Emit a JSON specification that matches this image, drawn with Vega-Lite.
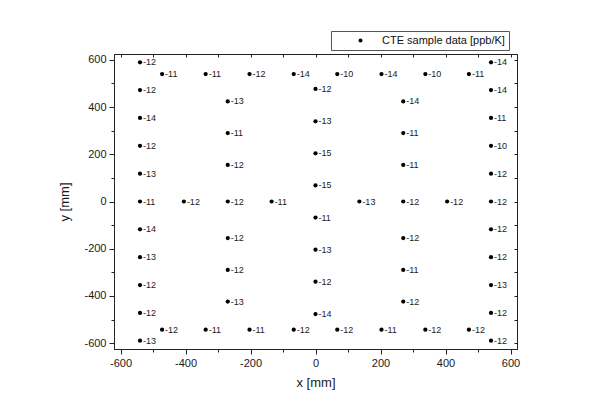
{
  "$schema": "https://vega.github.io/schema/vega-lite/v6.json",
  "width": 403,
  "height": 295,
  "autosize": {"type": "none"},
  "padding": {"left": 114, "top": 54, "right": 77, "bottom": 66},
  "background": "white",
  "config": {
    "font": "Liberation Sans",
    "view": {"stroke": "#333", "strokeWidth": 1},
    "axis": {"domainColor": "#222", "tickColor": "#222", "labelColor": "#1a1a1a", "titleColor": "#1a1a1a", "grid": false, "labelFontSize": 11, "titleFontSize": 13, "titleFontWeight": "normal"}
  },
  "data": {
    "values": [
      {"x": -540, "y": 590, "v": -12}, {"x": -540, "y": 472, "v": -12}, {"x": -540, "y": 354, "v": -14},
      {"x": -540, "y": 236, "v": -12}, {"x": -540, "y": 118, "v": -13}, {"x": -540, "y": 0, "v": -11},
      {"x": -540, "y": -118, "v": -14}, {"x": -540, "y": -236, "v": -13}, {"x": -540, "y": -354, "v": -12},
      {"x": -540, "y": -472, "v": -12}, {"x": -540, "y": -590, "v": -13},
      {"x": 540, "y": 590, "v": -14}, {"x": 540, "y": 472, "v": -14}, {"x": 540, "y": 354, "v": -11},
      {"x": 540, "y": 236, "v": -10}, {"x": 540, "y": 118, "v": -12}, {"x": 540, "y": 0, "v": -12},
      {"x": 540, "y": -118, "v": -12}, {"x": 540, "y": -236, "v": -12}, {"x": 540, "y": -354, "v": -13},
      {"x": 540, "y": -472, "v": -12}, {"x": 540, "y": -590, "v": -12},
      {"x": -472, "y": 540, "v": -11}, {"x": -338, "y": 540, "v": -11}, {"x": -203, "y": 540, "v": -12},
      {"x": -67, "y": 540, "v": -14}, {"x": 67, "y": 540, "v": -10}, {"x": 203, "y": 540, "v": -14},
      {"x": 338, "y": 540, "v": -10}, {"x": 472, "y": 540, "v": -11},
      {"x": -472, "y": -543, "v": -12}, {"x": -338, "y": -543, "v": -11}, {"x": -203, "y": -543, "v": -11},
      {"x": -67, "y": -543, "v": -12}, {"x": 67, "y": -543, "v": -12}, {"x": 203, "y": -543, "v": -11},
      {"x": 338, "y": -543, "v": -12}, {"x": 472, "y": -543, "v": -12},
      {"x": -270, "y": 424, "v": -13}, {"x": -270, "y": 290, "v": -11}, {"x": -270, "y": 155, "v": -12},
      {"x": -270, "y": 0, "v": -12}, {"x": -270, "y": -155, "v": -12}, {"x": -270, "y": -290, "v": -12},
      {"x": -270, "y": -424, "v": -13},
      {"x": 270, "y": 424, "v": -14}, {"x": 270, "y": 290, "v": -11}, {"x": 270, "y": 155, "v": -11},
      {"x": 270, "y": 0, "v": -12}, {"x": 270, "y": -155, "v": -12}, {"x": 270, "y": -290, "v": -11},
      {"x": 270, "y": -424, "v": -12},
      {"x": 0, "y": 477, "v": -12}, {"x": 0, "y": 340, "v": -13}, {"x": 0, "y": 204, "v": -15},
      {"x": 0, "y": 68, "v": -15}, {"x": 0, "y": -68, "v": -11}, {"x": 0, "y": -204, "v": -13},
      {"x": 0, "y": -340, "v": -12}, {"x": 0, "y": -477, "v": -14},
      {"x": -405, "y": 0, "v": -12}, {"x": -135, "y": 0, "v": -11}, {"x": 135, "y": 0, "v": -13},
      {"x": 405, "y": 0, "v": -12}
    ]
  },
  "layer": [
    {
      "mark": {"type": "point", "filled": true, "size": 18, "opacity": 1},
      "encoding": {
        "x": {"field": "x", "type": "quantitative", "scale": {"domain": [-620, 620], "nice": false, "zero": false},
          "axis": {"orient": "bottom", "title": "x [mm]", "values": [-600, -500, -400, -300, -200, -100, 0, 100, 200, 300, 400, 500, 600],
            "labelExpr": "datum.value % 200 === 0 ? toString(datum.value) : ''",
            "tickSize": {"condition": {"test": "datum.value % 200 === 0", "value": 5}, "value": 3},
            "labelPadding": 3, "titlePadding": 8}},
        "y": {"field": "y", "type": "quantitative", "scale": {"domain": [-625, 625], "nice": false, "zero": false},
          "axis": {"orient": "left", "title": "y [mm]", "values": [-600, -500, -400, -300, -200, -100, 0, 100, 200, 300, 400, 500, 600],
            "labelExpr": "datum.value % 200 === 0 ? toString(datum.value) : ''",
            "tickSize": {"condition": {"test": "datum.value % 200 === 0", "value": 5}, "value": 3},
            "labelPadding": 3, "titlePadding": 12}},
        "color": {"datum": "CTE sample data [ppb/K]", "type": "nominal", "scale": {"range": ["black"]},
          "legend": {"orient": "none", "legendX": 217, "legendY": -23, "title": null, "strokeColor": "#555", "fillColor": "white",
            "padding": 4, "symbolType": "circle", "symbolSize": 16, "labelFontSize": 11, "symbolOffset": 20, "labelOffset": 16, "labelColor": "#111", "labelLimit": 300}}
      }
    },
    {
      "mark": {"type": "text", "align": "left", "baseline": "middle", "dx": 3, "fontSize": 9, "color": "#1a1a1a"},
      "encoding": {
        "x": {"field": "x", "type": "quantitative", "axis": null},
        "y": {"field": "y", "type": "quantitative", "axis": null},
        "text": {"field": "v", "type": "nominal"}
      }
    },
    {
      "mark": {"type": "point", "opacity": 0},
      "encoding": {
        "x": {"field": "x", "type": "quantitative",
          "axis": {"orient": "top", "title": null, "labels": false, "values": [-600, -500, -400, -300, -200, -100, 0, 100, 200, 300, 400, 500, 600], "tickSize": -3}},
        "y": {"field": "y", "type": "quantitative",
          "axis": {"orient": "right", "title": null, "labels": false, "values": [-600, -500, -400, -300, -200, -100, 0, 100, 200, 300, 400, 500, 600], "tickSize": -3}}
      }
    }
  ],
  "resolve": {"axis": {"x": "independent", "y": "independent"}}
}
